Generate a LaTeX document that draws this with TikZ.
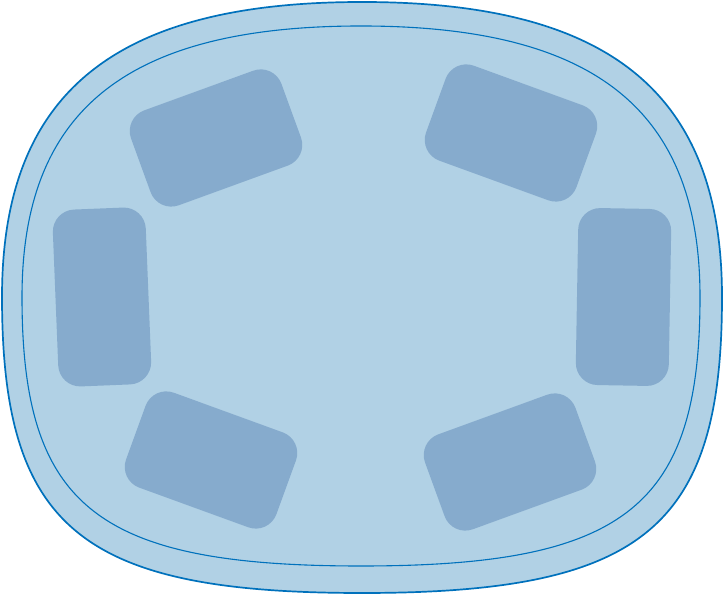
\documentclass[tikz,border=0pt]{standalone}
\usetikzlibrary{positioning}
\definecolor{trayfill}{HTML}{B1D1E5}
\definecolor{trayline}{HTML}{0071BC}
\definecolor{padfill}{HTML}{86ABCD}

\begin{document}
\begin{tikzpicture}[
  x=0.1mm, y=-0.1mm,
  rim/.style={draw=trayline, fill=trayfill, line width=0.17mm},
  groove/.style={draw=trayline, line width=0.11mm},
  pad/.style={fill=padfill, rounded corners=2.2mm, inner sep=0pt, minimum width=16mm, minimum height=10.1mm},
  sidepad/.style={pad, minimum width=9.3mm, minimum height=17.7mm}
]
\useasboundingbox (0,0) rectangle (724,595);

% outer rim
\draw[rim] (2,297) .. controls (2,93.5) and (113.6,2) .. (362,2)
  .. controls (610.4,2) and (722,93.5) .. (722,297)
  .. controls (722,528) and (643,593) .. (362,593)
  .. controls (81,593) and (2,528) .. cycle;

% inner groove
\draw[groove] (22,297) .. controls (22,110) and (127,26) .. (361,26)
  .. controls (595,26) and (700,110) .. (700,297)
  .. controls (700,507) and (625,566) .. (361,566)
  .. controls (97,566) and (22,507) .. cycle;

% pads
\node[pad, rotate=20]  (padTL) at (216,138) {};
\node[pad, rotate=-20] (padTR) at (511,133) {};
\node[sidepad, rotate=2.3] (padL) at (102,297) {};
\node[sidepad, rotate=-1]  (padR) at (623.5,297) {};
\node[pad, rotate=-20] (padBL) at (211,460) {};
\node[pad, rotate=20]  (padBR) at (510,462) {};
\end{tikzpicture}
\end{document}
